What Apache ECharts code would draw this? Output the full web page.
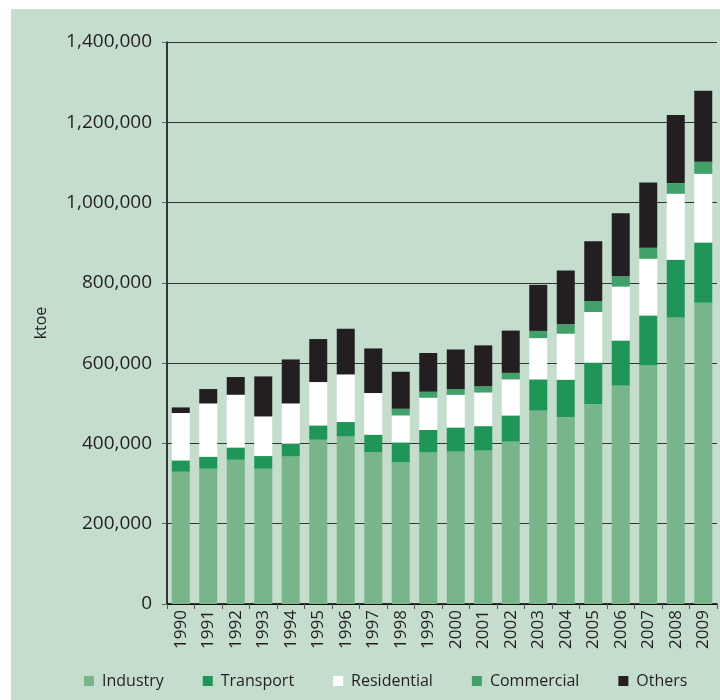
<!DOCTYPE html>
<html>
<head>
<meta charset="utf-8">
<script src="https://cdn.jsdelivr.net/npm/echarts@6/dist/echarts.min.js"></script>
<style>
  html, body { margin: 0; padding: 0; background: #ffffff; }
  #bg { position: absolute; left: 11px; top: 9px; width: 709px; height: 691px; background: #c5ddcd; }
  #main { position: absolute; left: 0; top: 0; width: 720px; height: 700px; }
</style>
</head>
<body>
<div id="bg"></div>
<div id="main"></div>
<script>
// Final energy consumption by sector (ktoe)
var years = ['1990', '1991', '1992', '1993', '1994', '1995', '1996', '1997', '1998', '1999',
             '2000', '2001', '2002', '2003', '2004', '2005', '2006', '2007', '2008', '2009'];

var industry    = [329500, 337000, 359400, 337000, 367600, 409200, 417400, 378600, 352700, 377600,
                   379800, 382300, 404600, 481700, 465400, 497900, 544200, 594700, 713700, 750500];
var transport   = [28200, 29900, 30600, 31600, 31700, 35600, 35900, 43100, 49800, 55800,
                   59900, 60800, 65100, 77900, 93300, 103600, 112100, 124100, 143800, 149800];
var residential = [118000, 132700, 131300, 98700, 100300, 108100, 118600, 103800, 67300, 80400,
                   81300, 83900, 89900, 102700, 114700, 125900, 134400, 141300, 164500, 171300];
var commercial  = [0, 0, 0, 0, 0, 0, 0, 0, 16600, 15000,
                   14600, 15400, 16200, 18000, 23200, 27400, 25700, 27400, 26500, 29900];
var others      = [14000, 35900, 44100, 99600, 109600, 107100, 113800, 111100, 92200, 96400,
                   98500, 101900, 105300, 114700, 134300, 149000, 156700, 162700, 169500, 177300];

var textColor = '#231f20';
var font = 'Open Sans';

function bar(name, data, color) {
    return {
        name: name,
        type: 'bar',
        stack: 'total',
        barWidth: 18,
        data: data,
        itemStyle: { color: color }
    };
}

var myChart = echarts.init(document.getElementById('main'));

var option = {
    animation: false,
    textStyle: { fontFamily: font, color: textColor },
    grid: { left: 167, right: 3, top: 42, bottom: 96 },
    legend: {
        left: 84,
        top: 673,
        padding: 0,
        icon: 'rect',
        itemWidth: 10,
        itemHeight: 10,
        itemGap: 39,
        textStyle: { fontFamily: font, fontSize: 16, color: textColor, padding: [0, 0, 0, 3] },
        data: ['Industry', 'Transport', 'Residential', 'Commercial', 'Others']
    },
    xAxis: {
        type: 'category',
        data: years,
        axisLine: { lineStyle: { color: '#000000', width: 1.5 } },
        axisTick: { show: true, length: 5, lineStyle: { color: '#555555' } },
        axisLabel: { rotate: 90, fontSize: 17, color: textColor, margin: 6, fontFamily: font }
    },
    yAxis: {
        type: 'value',
        min: 0,
        max: 1400000,
        interval: 200000,
        name: 'ktoe',
        nameLocation: 'middle',
        nameGap: 118,
        nameTextStyle: { fontSize: 16, color: textColor, fontFamily: font },
        axisLine: { show: true, lineStyle: { color: '#000000', width: 1.5 } },
        axisTick: { show: true, length: 5, lineStyle: { color: '#666666' } },
        splitLine: { lineStyle: { color: '#333333', width: 1 } },
        axisLabel: {
            fontSize: 19,
            color: textColor,
            margin: 15,
            fontFamily: font,
            formatter: function (v) { return v.toLocaleString('en-US'); }
        }
    },
    series: [
        bar('Industry', industry, '#78b58b'),
        bar('Transport', transport, '#1f9657'),
        bar('Residential', residential, '#ffffff'),
        bar('Commercial', commercial, '#42a06a'),
        bar('Others', others, '#231f20')
    ]
};

myChart.setOption(option);
</script>
</body>
</html>
